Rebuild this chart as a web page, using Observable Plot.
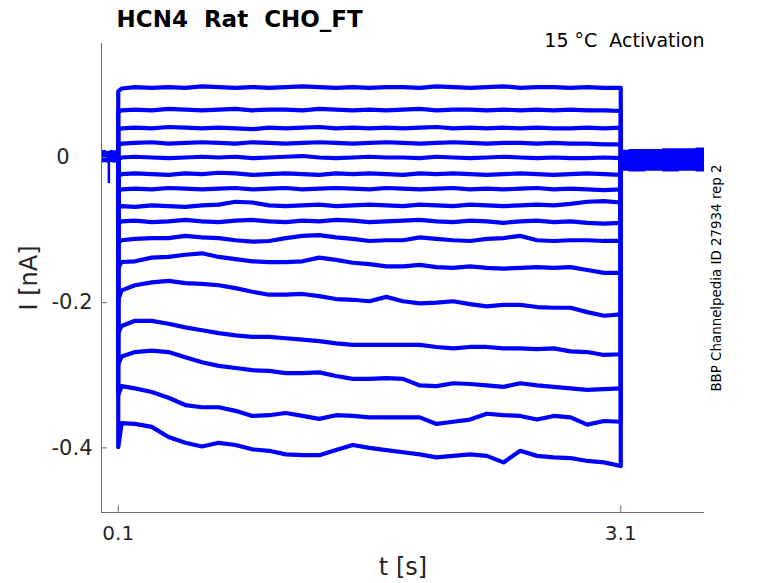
<!DOCTYPE html>
<html><head><meta charset="utf-8">
<script src="https://cdn.jsdelivr.net/npm/d3@7"></script>
<script src="https://cdn.jsdelivr.net/npm/@observablehq/plot@0.6"></script>
<style>body{margin:0;background:#fff}</style>
</head><body><div id="chart"></div>
<script>
const titleText = "HCN4  Rat  CHO_FT";
const subtitleText = "15 °C  Activation";
const sideText = "BBP Channelpedia ID 27934 rep 2";
const xLabel = "t [s]";
const yLabel = "I [nA]";
const xTicks = [0.1, 3.1];
const yTicks = [0, -0.2, -0.4];
const xDomain = [0, 3.6];
const yDomain = [-0.489, 0.157];

// holding segment before the step (band of noise around 0)
const preTimes = [0, 0.02, 0.04, 0.06, 0.08, 0.1];
const preLow   = [-0.008, -0.007, -0.008, -0.007, -0.008, -0.007];
const preHigh  = [0.009, 0.010, 0.008, 0.010, 0.009, 0.010];
const spikeTime = [0.044];
const spikeDepth = [-0.036];

// tail segment after the step
const postTimes = [3.1, 3.2, 3.3, 3.4, 3.5, 3.6];
const postLow   = [-0.019, -0.020, -0.019, -0.020, -0.019, -0.020];
const postHigh  = [0.010, 0.011, 0.011, 0.012, 0.012, 0.013];

// step segment, sampled times
const stepTimes = [0.1, 0.12, 0.2, 0.3, 0.4, 0.5, 0.6, 0.7, 0.8, 0.9, 1.0, 1.1, 1.2, 1.3, 1.4, 1.5, 1.6,
  1.7, 1.8, 1.9, 2.0, 2.1, 2.2, 2.3, 2.4, 2.5, 2.6, 2.7, 2.8, 2.9, 3.0, 3.1];

const trace01 = [0.091, 0.095, 0.097, 0.096, 0.097, 0.096, 0.098, 0.097, 0.096, 0.097, 0.096, 0.097, 0.098, 0.097, 0.096, 0.097,
  0.096, 0.097, 0.097, 0.096, 0.098, 0.097, 0.096, 0.097, 0.098, 0.096, 0.097, 0.097, 0.096, 0.097, 0.096, 0.096];
const trace02 = [0.063, 0.065, 0.066, 0.065, 0.067, 0.066, 0.065, 0.066, 0.067, 0.065, 0.066, 0.066, 0.065, 0.067, 0.066, 0.065,
  0.066, 0.065, 0.066, 0.067, 0.065, 0.066, 0.066, 0.065, 0.066, 0.065, 0.066, 0.065, 0.066, 0.065, 0.065, 0.064];
const trace03 = [0.038, 0.040, 0.041, 0.040, 0.042, 0.041, 0.040, 0.041, 0.040, 0.039, 0.041, 0.040, 0.041, 0.042, 0.040, 0.041,
  0.040, 0.041, 0.040, 0.041, 0.042, 0.040, 0.041, 0.040, 0.041, 0.040, 0.041, 0.040, 0.040, 0.041, 0.040, 0.041];
const trace04 = [0.017, 0.019, 0.020, 0.021, 0.019, 0.020, 0.021, 0.020, 0.019, 0.021, 0.020, 0.019, 0.020, 0.021, 0.020, 0.019,
  0.020, 0.021, 0.020, 0.019, 0.020, 0.021, 0.020, 0.019, 0.020, 0.020, 0.019, 0.020, 0.019, 0.019, 0.018, 0.018];
const trace05 = [-0.003, 0.000, 0.001, 0.000, -0.001, 0.000, 0.001, 0.000, 0.001, -0.001, 0.000, 0.001, 0.002, 0.000, -0.001, 0.000,
  0.001, 0.000, 0.000, -0.001, 0.001, 0.000, -0.001, 0.000, 0.001, 0.000, -0.001, 0.000, -0.001, -0.001, 0.000, -0.001];
const trace06 = [-0.026, -0.023, -0.022, -0.023, -0.024, -0.022, -0.023, -0.021, -0.022, -0.024, -0.023, -0.022, -0.023, -0.024, -0.022, -0.023,
  -0.022, -0.023, -0.024, -0.022, -0.023, -0.022, -0.023, -0.024, -0.023, -0.022, -0.023, -0.024, -0.023, -0.022, -0.023, -0.024];
const trace07 = [-0.046, -0.044, -0.043, -0.044, -0.042, -0.043, -0.044, -0.043, -0.042, -0.044, -0.043, -0.042, -0.044, -0.043, -0.042, -0.043,
  -0.044, -0.042, -0.043, -0.044, -0.043, -0.042, -0.044, -0.043, -0.044, -0.043, -0.042, -0.044, -0.043, -0.044, -0.045, -0.044];
const trace08 = [-0.070, -0.067, -0.068, -0.066, -0.067, -0.068, -0.066, -0.065, -0.061, -0.062, -0.066, -0.067, -0.066, -0.065, -0.067, -0.066,
  -0.065, -0.066, -0.067, -0.065, -0.066, -0.067, -0.065, -0.066, -0.067, -0.066, -0.065, -0.066, -0.064, -0.061, -0.060, -0.062];
const trace09 = [-0.091, -0.088, -0.087, -0.089, -0.088, -0.086, -0.088, -0.089, -0.087, -0.086, -0.088, -0.089, -0.087, -0.088, -0.086, -0.087,
  -0.089, -0.088, -0.087, -0.086, -0.088, -0.089, -0.087, -0.088, -0.090, -0.088, -0.087, -0.089, -0.088, -0.090, -0.091, -0.090];
const trace10 = [-0.118, -0.114, -0.112, -0.111, -0.111, -0.108, -0.110, -0.111, -0.114, -0.116, -0.115, -0.111, -0.108, -0.107, -0.110, -0.112,
  -0.115, -0.114, -0.114, -0.110, -0.112, -0.114, -0.115, -0.112, -0.111, -0.108, -0.114, -0.115, -0.114, -0.114, -0.115, -0.115];
const trace11 = [-0.152, -0.144, -0.143, -0.138, -0.137, -0.134, -0.132, -0.137, -0.140, -0.143, -0.144, -0.144, -0.143, -0.138, -0.141, -0.145,
  -0.147, -0.150, -0.150, -0.148, -0.151, -0.152, -0.150, -0.152, -0.153, -0.152, -0.151, -0.152, -0.151, -0.155, -0.159, -0.159];
const trace12 = [-0.196, -0.183, -0.176, -0.172, -0.170, -0.173, -0.174, -0.176, -0.180, -0.185, -0.189, -0.189, -0.188, -0.191, -0.195, -0.196,
  -0.198, -0.192, -0.198, -0.201, -0.200, -0.198, -0.202, -0.205, -0.203, -0.203, -0.206, -0.207, -0.207, -0.213, -0.218, -0.216];
const trace13 = [-0.242, -0.232, -0.225, -0.225, -0.229, -0.234, -0.238, -0.242, -0.245, -0.247, -0.247, -0.249, -0.251, -0.253, -0.256, -0.258,
  -0.258, -0.258, -0.258, -0.258, -0.261, -0.263, -0.261, -0.261, -0.263, -0.263, -0.264, -0.263, -0.267, -0.268, -0.272, -0.271];
const trace14 = [-0.285, -0.274, -0.268, -0.266, -0.268, -0.275, -0.282, -0.287, -0.290, -0.293, -0.294, -0.297, -0.297, -0.296, -0.301, -0.305,
  -0.305, -0.304, -0.305, -0.314, -0.315, -0.311, -0.312, -0.314, -0.316, -0.311, -0.314, -0.316, -0.318, -0.320, -0.319, -0.318];
const trace15 = [-0.327, -0.315, -0.318, -0.323, -0.331, -0.341, -0.344, -0.344, -0.349, -0.356, -0.355, -0.352, -0.356, -0.360, -0.355, -0.356,
  -0.358, -0.358, -0.358, -0.358, -0.367, -0.364, -0.361, -0.353, -0.355, -0.356, -0.361, -0.356, -0.358, -0.368, -0.363, -0.364];
const trace16 = [-0.399, -0.366, -0.367, -0.371, -0.385, -0.393, -0.398, -0.393, -0.396, -0.402, -0.404, -0.409, -0.410, -0.410, -0.403, -0.396,
  -0.400, -0.403, -0.406, -0.409, -0.413, -0.411, -0.409, -0.411, -0.420, -0.404, -0.411, -0.413, -0.414, -0.418, -0.420, -0.425];

const traces = [trace01, trace02, trace03, trace04, trace05, trace06, trace07, trace08,
  trace09, trace10, trace11, trace12, trace13, trace14, trace15, trace16];

const blue = "#0000ff";
const axisColor = "#6b6b6b";
const textColor = "#262626";

const rows = [];
traces.forEach((tr, k) => {
  rows.push({trace: k, t: stepTimes[0], v: 0});
  tr.forEach((v, i) => rows.push({trace: k, t: stepTimes[i], v}));
  rows.push({trace: k, t: stepTimes[stepTimes.length - 1], v: 0});
});
const preRows = preTimes.map((t, i) => ({t, lo: preLow[i], hi: preHigh[i]}));
const postRows = postTimes.map((t, i) => ({t, lo: postLow[i], hi: postHigh[i]}));
const spikeRows = spikeTime.map((t, i) => ({t, v: spikeDepth[i]}));
const yMin = yDomain[0];

const chart = Plot.plot({
  width: 778, height: 583,
  marginLeft: 101, marginRight: 74, marginTop: 43, marginBottom: 71,
  x: {domain: xDomain, label: null, axis: null},
  y: {domain: yDomain, label: null, axis: null},
  style: {fontFamily: "DejaVu Sans", background: "white", color: textColor, overflow: "visible"},
  marks: [
    Plot.areaY(preRows, {x: "t", y1: "lo", y2: "hi", fill: blue}),
    Plot.ruleX(spikeRows, {x: "t", y1: 0, y2: "v", stroke: blue, strokeWidth: 2.5}),
    Plot.areaY(postRows, {x: "t", y1: "lo", y2: "hi", fill: blue, curve: "step"}),
    Plot.line(rows, {x: "t", y: "v", z: "trace", stroke: blue, strokeWidth: 4.2, strokeLinejoin: "round"}),
    Plot.ruleX([xDomain[0]], {stroke: axisColor, strokeWidth: 1}),
    Plot.ruleY([yMin], {stroke: axisColor, strokeWidth: 1}),
    Plot.ruleY(yTicks, {y: d => d, x1: 0, x2: 0.036, stroke: axisColor}),
    Plot.ruleX(xTicks, {x: d => d, y1: yMin, y2: yMin + 0.0093, stroke: axisColor}),
    Plot.text(xTicks, {x: d => d, y: yMin, text: d => d.toFixed(1), dy: 21, fontSize: 20, fill: textColor}),
    Plot.text(yTicks.filter(d => d !== 0), {x: 0, y: d => d, text: d => d.toFixed(1), textAnchor: "end", dx: -9, fontSize: 21, fill: textColor}),
    Plot.text(yTicks.filter(d => d === 0), {x: 0, y: d => d, text: d => "0", textAnchor: "middle", dx: -38.5, fontSize: 21, fill: textColor}),
    Plot.text([titleText], {text: d => d, frameAnchor: "top-left", lineAnchor: "middle", dx: 15, dy: -24, textAnchor: "start", fontWeight: "bold", fontSize: 23, fill: "#000"}),
    Plot.text([subtitleText], {text: d => d, frameAnchor: "top-right", lineAnchor: "middle", dx: 0, dy: -3, textAnchor: "end", fontSize: 19, fill: "#000"}),
    Plot.text([sideText], {text: d => d, frameAnchor: "right", lineAnchor: "middle", dx: 12.5, rotate: -90, textAnchor: "middle", fontSize: 13.4, fill: "#000"}),
    Plot.text([yLabel], {text: d => d, frameAnchor: "left", lineAnchor: "middle", dx: -72.5, rotate: -90, textAnchor: "middle", fontSize: 24, fill: textColor}),
    Plot.text([xLabel], {text: d => d, frameAnchor: "bottom", lineAnchor: "middle", dy: 55, textAnchor: "middle", fontSize: 24, fill: textColor})
  ]
});
document.getElementById("chart").appendChild(chart);
</script>
</body></html>
